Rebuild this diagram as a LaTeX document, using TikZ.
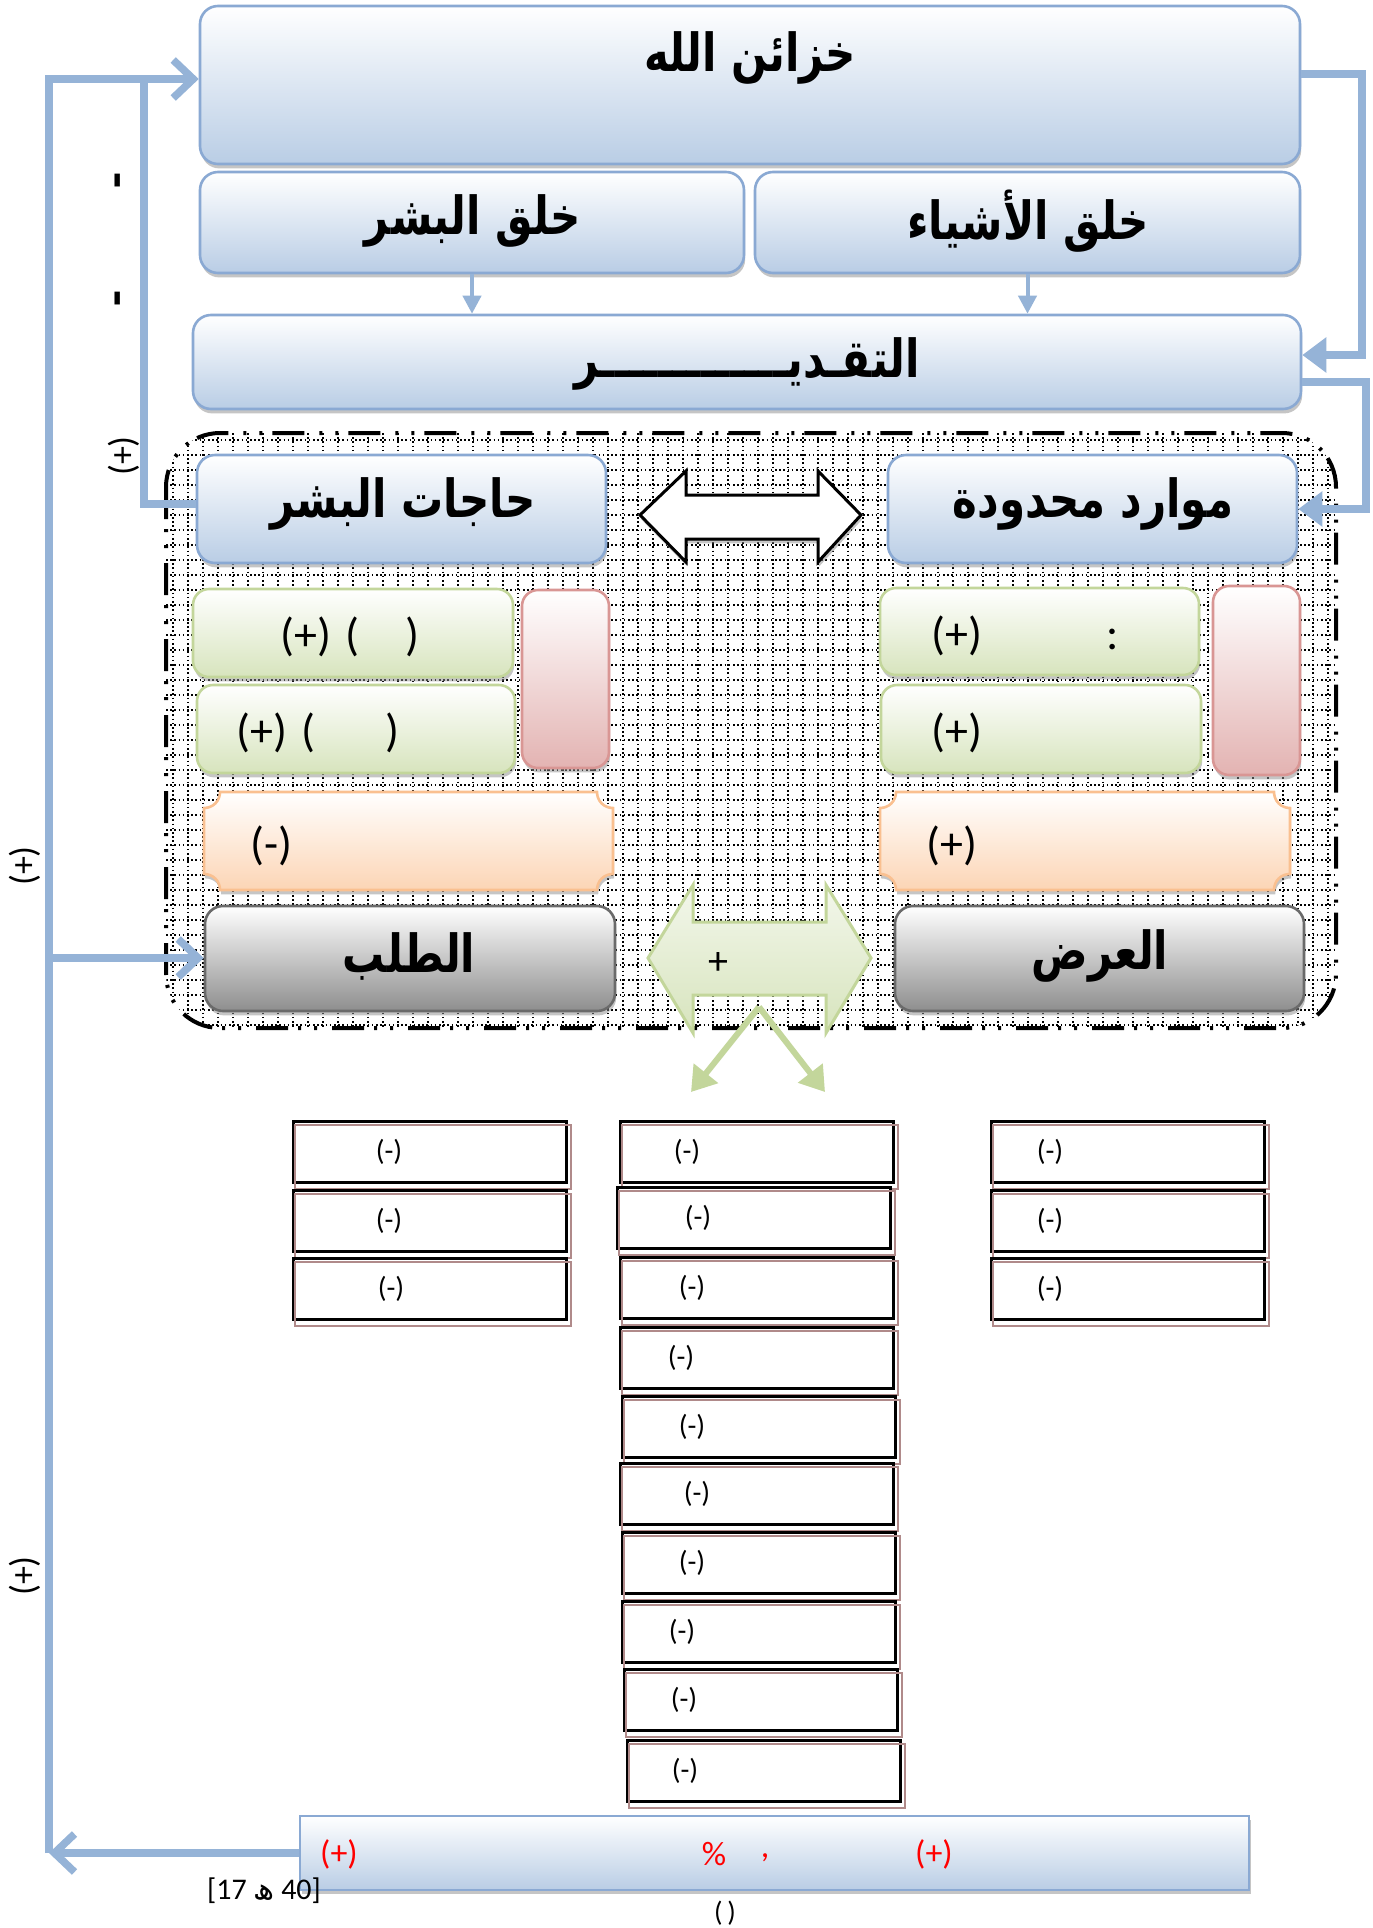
\documentclass[tikz,border=0pt]{standalone}
\usepackage{fontspec}
\setmainfont{Carlito}
\newfontfamily\arabicfont[Script=Arabic]{DejaVu Sans}
\TeXXeTstate=1
\usetikzlibrary{arrows.meta,calc,shadows}
\definecolor{lnblue}{HTML}{95B3D7}
\definecolor{bbord}{HTML}{8AA9D3}
\definecolor{bfill}{HTML}{B9CDE5}
\definecolor{gfill}{HTML}{D7E4BD}
\definecolor{gbord}{HTML}{C3D69B}
\definecolor{pfill}{HTML}{E3B3B2}
\definecolor{pbord}{HTML}{D99694}
\definecolor{ofill}{HTML}{FCD5B5}
\definecolor{obord}{HTML}{FAC090}
\definecolor{grfill}{HTML}{8E8E8E}
\definecolor{grbord}{HTML}{6A6A6A}
\definecolor{shbrown}{HTML}{B08A8A}
\definecolor{txtred}{HTML}{FF0000}
\tikzset{
  sh/.style={drop shadow={shadow xshift=0.6pt,shadow yshift=-2.2pt,fill=black!45}},
  bluebox/.style={sh, rounded corners=9pt, draw=bbord, line width=1.3pt, top color=white, bottom color=bfill, inner sep=0pt},
  greenbox/.style={sh, rounded corners=8pt, draw=gbord, line width=1.3pt, top color=white, bottom color=gfill, inner sep=0pt},
  pinkbox/.style={sh, rounded corners=8pt, draw=pbord, line width=1.3pt, top color=white, bottom color=pfill, inner sep=0pt},
  graybox/.style={sh, rounded corners=9pt, draw=grbord, line width=1.3pt, top color=white, bottom color=grfill, inner sep=0pt},
  barbox/.style={drop shadow={shadow xshift=0.8pt,shadow yshift=-2.2pt,fill=black!45}, draw=bbord, line width=1pt, top color=white, bottom color=bfill, inner sep=0pt},
  lowbox/.style={draw=black, line width=1.5pt, fill=white, inner sep=0pt},
  brownsh/.style={draw=shbrown, line width=1pt},
  arab/.style={font=\arabicfont\bfseries\fontsize{21}{25}\selectfont, inner sep=0pt},
  big/.style={font=\fontsize{23}{27}\selectfont, inner sep=0pt, anchor=west},
  lowtxt/.style={font=\fontsize{14.5}{17}\selectfont, inner sep=0pt},
  redt/.style={font=\fontsize{17}{20}\selectfont, text=txtred, inner sep=0pt},
  rot/.style={rotate=90, font=\fontsize{18}{21}\selectfont, inner sep=0pt},
  rotb/.style={rotate=90, font=\bfseries\fontsize{26}{30}\selectfont, inner sep=0pt},
  conn/.style={draw=lnblue, line width=3.8pt, line join=miter},
  openarr/.style={-{Straight Barb[length=10pt,width=19pt]}},
  filarr/.style={-{Triangle[length=12pt,width=17pt]}},
  smallarr/.style={draw=lnblue, line width=2pt, -{Triangle[length=9pt,width=9pt]}},
  garr/.style={draw=gbord, line width=3pt, -{Triangle[length=12pt,width=15pt]}},
  gridln/.style={black, line width=0.8pt, dash pattern=on 0.8pt off 1.3pt},
  cont/.style={black, line width=2pt, dash pattern=on 16pt off 5pt on 1.5pt off 6.5pt on 1.5pt off 7.5pt, rounded corners=27pt}
}
\newcommand{\ar}[1]{\scalebox{1}[1.25]{\beginR #1\endR}}
\newcommand{\plaque}[4]{%
  \path[sh, top color=white, bottom color=ofill, draw=obord, line width=1.3pt]
   (#1+16,#2) -- (#3-16,#2) .. controls (#3-16,#2+9) and (#3-9,#2+16) .. (#3,#2+16)
   -- (#3,#4-16) .. controls (#3-9,#4-16) and (#3-16,#4-9) .. (#3-16,#4)
   -- (#1+16,#4) .. controls (#1+16,#4-9) and (#1+9,#4-16) .. (#1,#4-16)
   -- (#1,#2+16) .. controls (#1+9,#2+16) and (#1+16,#2+9) .. (#1+16,#2) -- cycle;}
\begin{document}
\begin{tikzpicture}[x=0.5pt,y=-0.5pt]
\useasboundingbox (0,0) rectangle (1372,1928);
\fill[white] (0,0) rectangle (1372,1928);

% container with grid
\begin{scope}
  \clip[rounded corners=27pt] (166,433) rectangle (1336,1028);
  \fill[white] (166,433) rectangle (1336,1028);
  \foreach \x in {173,188,...,1333} \draw[gridln] (\x,433) -- (\x,1028);
  \foreach \y in {440,455,...,1025} \draw[gridln] (166,\y) -- (1336,\y);
\end{scope}
\draw[cont] (166,433) rectangle (1336,1028);

% top blue boxes
\node[bluebox, minimum width=550pt, minimum height=79pt] (top) at (750,85) {};
\node[bluebox, minimum width=272pt, minimum height=50.5pt] (sb) at (472,222.5) {};
\node[bluebox, minimum width=272.5pt, minimum height=50.5pt] (sa) at (1027.5,222.5) {};
\node[bluebox, minimum width=554pt, minimum height=47pt] (taq) at (747,362) {};
\node[bluebox, minimum width=204.5pt, minimum height=54pt] (haj) at (401.5,509) {};
\node[bluebox, minimum width=204.5pt, minimum height=54pt] (maw) at (1092.5,509) {};

% white double arrow
\path[sh, fill=white, draw=black, line width=1.5pt, line join=miter]
  (640,515) -- (686,471) -- (686,495) -- (818,495) -- (818,471) -- (861,515)
  -- (818,562) -- (818,539) -- (686,539) -- (686,562) -- cycle;

% green and pink boxes
\node[greenbox, minimum width=160pt, minimum height=44pt] (g1) at (353,633) {};
\node[greenbox, minimum width=159pt, minimum height=44pt] (g2) at (356,729) {};
\node[pinkbox, minimum width=43.5pt, minimum height=89pt] (p1) at (565.5,679) {};
\node[greenbox, minimum width=159.5pt, minimum height=43.5pt] (g3) at (1039.5,631.5) {};
\node[greenbox, minimum width=160pt, minimum height=44pt] (g4) at (1041,729) {};
\node[pinkbox, minimum width=43.5pt, minimum height=94.5pt] (p2) at (1256.5,680.5) {};

% orange plaques
\plaque{204}{792}{613}{890}
\node[inner sep=0pt, minimum width=204.5pt, minimum height=49pt] (o1) at (408.5,841) {};
\plaque{880}{792}{1290}{890}
\node[inner sep=0pt, minimum width=205pt, minimum height=49pt] (o2) at (1085,841) {};

% gray boxes
\node[graybox, minimum width=205pt, minimum height=52.5pt] (tal) at (410,958.5) {};
\node[graybox, minimum width=204.5pt, minimum height=52.5pt] (ard) at (1099.5,958.5) {};

% green double arrow
\path[top color=white!70!gfill, bottom color=gfill, draw=gbord, line width=1.5pt, line join=miter]
  (648,958) -- (693,885) -- (693,922) -- (826,922) -- (826,885) -- (871,958)
  -- (826,1033) -- (826,995) -- (693,995) -- (693,1033) -- cycle;
\node[font=\fontsize{20}{24}\selectfont, inner sep=0pt] (plus) at (718,963) {+};
\coordinate (gsrc) at (759,1007);
\coordinate (gl) at (691,1092);
\coordinate (gr) at (825,1092);
\draw[garr] (gsrc) -- (gl);
\draw[garr] (gsrc) -- (gr);

% lower boxes
\foreach \n/\cx/\cy/\tx in {L1/429.5/1152/389, L2/429.5/1220.5/389, L3/429.5/1288.5/391,
  R1/1127.5/1152/1050, R2/1127.5/1220.5/1050, R3/1127.5/1288.5/1050,
  M1/756.5/1152/687, M2/753.5/1218/698, M3/756.5/1288/692, M4/756.5/1357.5/681,
  M5/758.5/1427/692, M6/756.5/1494/697, M7/758.5/1563/692, M8/758.5/1632/682,
  M9/761/1700/684, M10/763.5/1770.5/685}{
  \node[lowbox, minimum width=136.5pt, minimum height=30.5pt] (\n) at (\cx,\cy) {};
  \draw[brownsh] ($(\n.north west)+(3,5)$) rectangle ($(\n.south east)+(3,5)$);
  \node[lowtxt] (\n-t) at (\tx,\cy) {(-)};
}

% bottom bar
\node[barbox, minimum width=474.5pt, minimum height=37pt] (bar) at (774.5,1853) {};

% small arrows
\draw[smallarr] (sb.south) -- (sb.south |- taq.north);
\draw[smallarr] (sa.south) -- (sa.south |- taq.north);

% right connectors
\coordinate (r1a) at (1362,74);
\coordinate (r1b) at (1362,355);
\draw[conn, filarr] (top.east |- r1a) -- (r1a) -- (r1b) -- (taq.east |- r1b);
\coordinate (r2a) at (1366,382);
\coordinate (r2b) at (1366,509);
\draw[conn, filarr] (taq.east |- r2a) -- (r2a) -- (r2b) -- (maw.east |- r2b);

% left connectors
\coordinate (lot) at (49,79);
\coordinate (lom) at (49,958);
\coordinate (lob) at (49,1853);
\coordinate (lit) at (144,79);
\coordinate (lib) at (144,504);
\draw[conn, openarr] (bar.west) -- (lob);
\draw[conn, openarr] (lob) -- (lot) -- (top.west |- lot);
\draw[conn, openarr] (lom) -- (tal.west |- lom);
\draw[conn] (haj.west |- lib) -- (lib) -- (lit);

% Arabic texts
\node[arab] (t-top) at (750,58) {\ar{خزائن الله}};
\node[arab] (t-sb) at (473,221) {\ar{خلق البشر}};
\node[arab] (t-sa) at (1028,221) {\ar{خلق الأشياء}};
\node[arab] (t-taq) at (747,364) {\ar{التقـديـــــــــــــر}};
\node[arab] (t-haj) at (403,504) {\ar{حاجات البشر}};
\node[arab] (t-maw) at (1093,504) {\ar{موارد محدودة}};
\node[arab] (t-tal) at (409,956) {\ar{الطلب}};
\node[arab] (t-ard) at (1100,956) {\ar{العرض}};

% texts in boxes
\node[big] (t-g1) at (280,637) {(+)\hspace{7pt}(\hspace{23pt})};
\node[big] (t-g2) at (236,733) {(+)\hspace{7pt}(\hspace{35pt})};
\node[big] (t-g3) at (931,636) {(+)\hspace{62pt}:};
\node[big] (t-g4) at (931,733) {(+)};
\node[big] (t-o1) at (250,846) {(-)};
\node[big] (t-o2) at (926,846) {(+)};

\node[redt] (t-b1) at (339,1854) {(+)};
\node[redt] (t-b2) at (714,1854) {\%};
\node[redt] (t-b3) at (765,1858) {,};
\node[redt] (t-b4) at (934,1854) {(+)};

\node[rot] (r-1) at (124,456) {(+)};
\node[rot] (r-2) at (25,866) {(+)};
\node[rot] (r-3) at (25,1576) {(+)};
\node[rotb] (m-1) at (124,181) {-};
\node[rotb] (m-2) at (124,299) {-};

\node[font=\fontsize{15}{18}\selectfont, inner sep=0pt] (ref) at (264,1891) {[17 {\arabicfont ھ} 40]};
\node[font=\fontsize{14}{17}\selectfont, inner sep=0pt] (par) at (725,1913) {(\,)};
\end{tikzpicture}
\end{document}
